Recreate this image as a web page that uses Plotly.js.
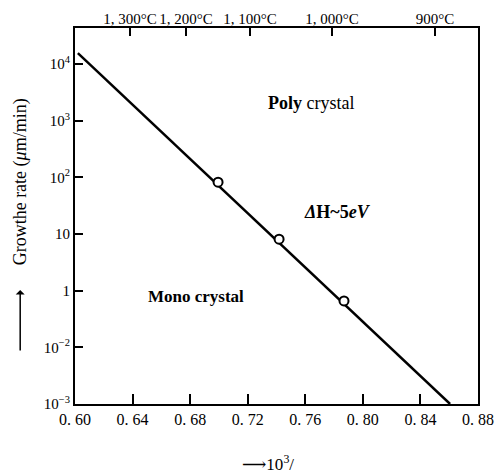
<!DOCTYPE html>
<html>
<head>
<meta charset="utf-8">
<script src="https://cdn.plot.ly/plotly-3.0.1.min.js"></script>
<style>html,body{margin:0;padding:0;background:#fff;}#chart{width:502px;height:475px;}</style>
</head>
<body>
<div id="chart"></div>
<script>
// Fitted line (reciprocal temperature 10^3/T vs growth rate)
var lineX = [0.602, 0.8606];
var lineY = [1.55e4, 1.0e-2];
// Measured points
var pointX = [0.6994, 0.7418, 0.7869];
var pointY = [82, 8.1, 0.66];
// Bottom axis ticks
var xTickVals = [0.60, 0.64, 0.68, 0.72, 0.76, 0.80, 0.84, 0.88];
var xTickText = ['0. 60', '0. 64', '0. 68', '0. 72', '0. 76', '0. 80', '0. 84', '0. 88'];
// Top temperature axis ticks
var topTickVals = [0.6382, 0.6771, 0.7216, 0.7786, 0.8502];
var topTickText = ['1, 300°C', '1, 200°C', '1, 100°C', '1, 000°C', '900°C'];
// Left axis ticks (labels as printed on the original)
var yTickVals = [1e-2, 1e-1, 1, 10, 100, 1e3, 1e4];
var yTickText = ['10<sup>−3</sup>', '10<sup>−2</sup>', '1', '10', '10<sup>2</sup>', '10<sup>3</sup>', '10<sup>4</sup>'];

var serif = 'Liberation Serif, DejaVu Serif, serif';

var traces = [
  {x: lineX, y: lineY, mode: 'lines', line: {color: '#000', width: 2.5}, hoverinfo: 'skip', showlegend: false},
  {x: pointX, y: pointY, mode: 'markers', marker: {symbol: 'circle', size: 9, color: '#fff', line: {color: '#000', width: 2}}, showlegend: false},
  {x: [0.7], y: [1], xaxis: 'x2', mode: 'markers', marker: {opacity: 0}, hoverinfo: 'skip', showlegend: false}
];

var layout = {
  width: 502, height: 475,
  margin: {l: 75, r: 24, t: 28, b: 71},
  paper_bgcolor: '#fff', plot_bgcolor: '#fff',
  font: {family: serif, color: '#000', size: 14},
  showlegend: false,
  xaxis: {
    range: [0.60, 0.88], tickvals: xTickVals, ticktext: xTickText,
    ticks: 'inside', ticklen: 10, tickwidth: 2, tickcolor: '#000',
    showline: true, linewidth: 2, linecolor: '#000', mirror: true,
    showgrid: false, zeroline: false,
    tickfont: {family: serif, size: 16, color: '#000'}
  },
  xaxis2: {
    overlaying: 'x', side: 'top', range: [0.60, 0.88],
    tickvals: topTickVals, ticktext: topTickText,
    ticks: 'inside', ticklen: 8, tickwidth: 2, tickcolor: '#000',
    showgrid: false, zeroline: false, showline: false,
    tickfont: {family: serif, size: 15, color: '#000'}
  },
  yaxis: {
    type: 'log', range: [-2, 4.635],
    tickvals: yTickVals, ticktext: yTickText,
    ticks: 'inside', ticklen: 8, tickwidth: 2, tickcolor: '#000',
    showline: true, linewidth: 2, linecolor: '#000', mirror: true,
    showgrid: false, zeroline: false,
    tickfont: {family: serif, size: 15, color: '#000'}
  },
  annotations: [
    {xref: 'paper', yref: 'paper', x: -0.136, y: 0.59, xanchor: 'center', yanchor: 'middle', text: 'Growthe rate (<i>μ</i>m/min)', textangle: -90, showarrow: false, font: {family: serif, size: 18}},
    {xref: 'paper', yref: 'paper', x: -0.136, y: 0.303, ax: 0, ay: 62, text: '', showarrow: true, arrowhead: 1, arrowsize: 1, arrowwidth: 1.5, arrowcolor: '#000'},
    {xref: 'paper', yref: 'paper', x: 0.479, y: -0.157, xanchor: 'center', yanchor: 'middle', text: '⟶10<sup>3</sup>/', showarrow: false, font: {family: serif, size: 17}},
    {xref: 'paper', yref: 'paper', x: (311-75)/403, y: (404-103)/376, xanchor: 'center', yanchor: 'middle', text: '<b>Poly</b> crystal', showarrow: false, font: {family: serif, size: 18}},
    {xref: 'paper', yref: 'paper', x: (337-75)/403, y: (404-212)/376, xanchor: 'center', yanchor: 'middle', text: '<b><i>Δ</i>H~5<i>eV</i></b>', showarrow: false, font: {family: serif, size: 18}},
    {xref: 'paper', yref: 'paper', x: (196-75)/403, y: (404-296)/376, xanchor: 'center', yanchor: 'middle', text: '<b>Mono crystal</b>', showarrow: false, font: {family: serif, size: 17}}
  ]
};

Plotly.newPlot('chart', traces, layout, {displayModeBar: false, staticPlot: true});
</script>
</body>
</html>
